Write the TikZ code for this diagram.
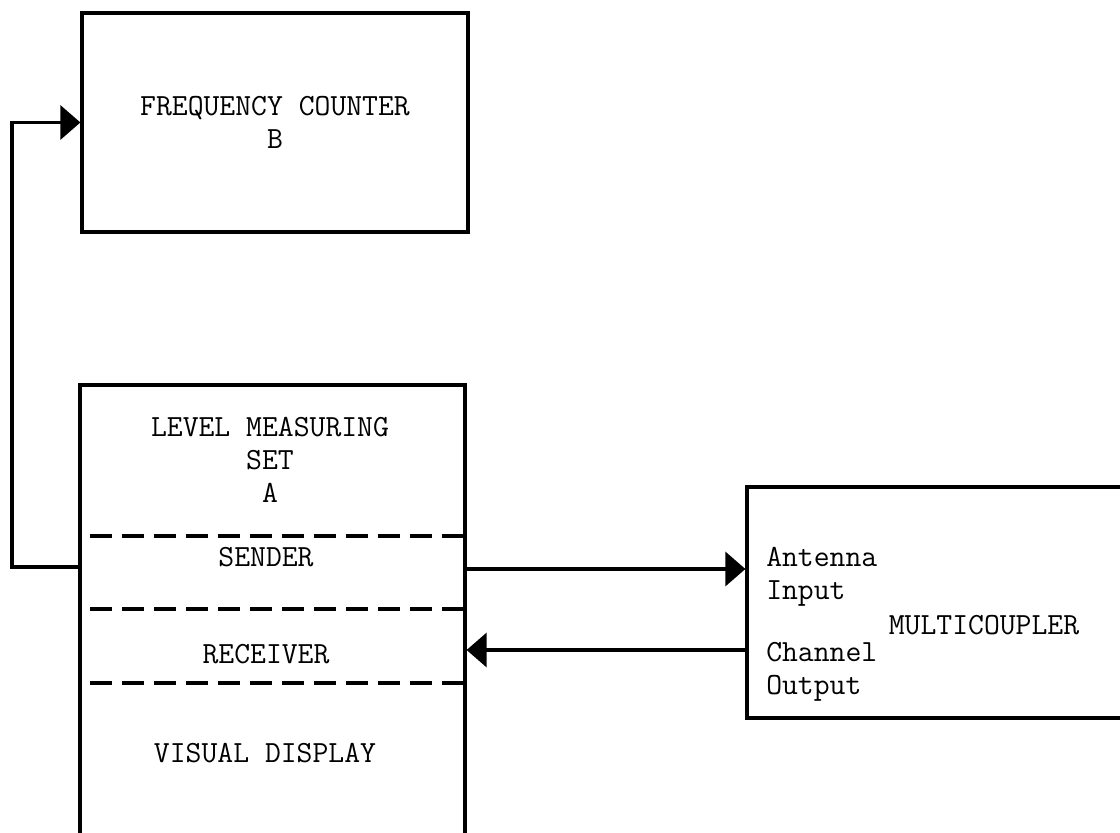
\documentclass[tikz,border=0pt]{standalone}
\usetikzlibrary{arrows.meta}
\begin{document}
\begin{tikzpicture}[x=0.5pt,y=-0.5pt,line width=1.6pt,
    every node/.style={font=\ttfamily\fontsize{15.4}{16.5}\selectfont},
    unit/.style={draw,rectangle,inner sep=0pt},
    link/.style={-{Triangle[length=10pt,width=17pt]}},
    divider/.style={dash pattern=on 11pt off 5pt}]
  \useasboundingbox (0,0) rectangle (1120,833);
  \clip (0,0) rectangle (1120,833);
  % units
  \node[unit,align=center,minimum width=193pt,minimum height=109.5pt] (counter) at (275,122.5) {FREQUENCY COUNTER\\B};
  \node[unit,minimum width=192.5pt,minimum height=257.5pt] (level) at (272.5,642.5) {};
  \node[unit,minimum width=226.5pt,minimum height=115.5pt] (coupler) at (973.5,602.5) {};
  % level measuring set
  \node[align=center] (leveltitle) at (270,460) {LEVEL MEASURING\\SET\\A};
  \draw[divider] (90,536) -- (465,536);
  \node (sender) at (266,557) {SENDER};
  \draw[divider] (90,609) -- (465,609);
  \node (receiver) at (266,654) {RECEIVER};
  \draw[divider] (90,683) -- (465,683);
  \node (display) at (265,753) {VISUAL DISPLAY};
  % multicoupler
  \node (couplertitle) at (984,625) {MULTICOUPLER};
  \node[anchor=west,align=left] (antenna) at (758,577) {Antenna\\Input};
  \node[anchor=west,align=left] (channel) at (758,672) {Channel\\Output};
  % connections
  \coordinate (looprow) at (0,567);
  \coordinate (bend) at (12,567);
  \coordinate (sendrow) at (0,569);
  \coordinate (recvrow) at (0,650);
  \draw[link] (level.west |- looprow) -- (bend) |- (counter.west);
  \draw[link] (level.east |- sendrow) -- (coupler.west |- sendrow);
  \draw[link] (coupler.west |- recvrow) -- (level.east |- recvrow);
\end{tikzpicture}
\end{document}
